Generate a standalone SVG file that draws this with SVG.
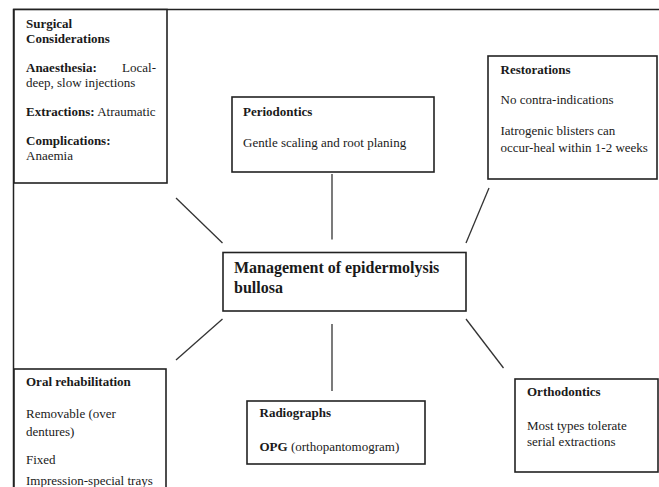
<svg xmlns="http://www.w3.org/2000/svg" width="659" height="487" viewBox="0 0 659 487">
<style>
.box{fill:#fff;stroke:#222;stroke-width:1.6}
.frame{fill:none;stroke:#222;stroke-width:1.5}
.con{stroke:#333;stroke-width:1.3;fill:none}
text{font-family:"Liberation Serif","Times New Roman",serif;font-size:13px;fill:#1a1a1a}
.b{font-weight:bold}
.title{font-size:16px;font-weight:bold}
</style>
<rect width="659" height="487" fill="#fff"/>
<g id="frame">
<path class="frame" d="M13.5,487 V9.5 H659"/>
</g>
<g id="connectors">
<line class="con" x1="176" y1="198" x2="222.5" y2="243"/>
<line class="con" x1="332" y1="174" x2="332" y2="239.5"/>
<line class="con" x1="489" y1="188" x2="466" y2="243"/>
<line class="con" x1="222.5" y1="319" x2="176" y2="360"/>
<line class="con" x1="332" y1="324" x2="332" y2="391"/>
<line class="con" x1="466" y1="319" x2="503.5" y2="368"/>
</g>
<g id="surgical">
<rect class="box" x="14" y="9.5" width="153" height="173.5"/>
<text x="26" y="28" class="b">Surgical</text>
<text x="26" y="43" class="b">Considerations</text>
<text x="26" y="72"><tspan class="b">Anaesthesia:</tspan></text>
<text x="156" y="72" text-anchor="end">Local-</text>
<text x="26" y="87">deep, slow injections</text>
<text x="26" y="116"><tspan class="b">Extractions:</tspan> Atraumatic</text>
<text x="26" y="145" class="b">Complications:</text>
<text x="26" y="160">Anaemia</text>
</g>
<g id="periodontics">
<rect class="box" x="232" y="97" width="202" height="75"/>
<text x="243" y="116" class="b">Periodontics</text>
<text x="243" y="147">Gentle scaling and root planing</text>
</g>
<g id="restorations">
<rect class="box" x="488" y="56" width="169" height="123"/>
<text x="500.5" y="74" class="b">Restorations</text>
<text x="500.5" y="104">No contra-indications</text>
<text x="500.5" y="135">Iatrogenic blisters can</text>
<text x="500.5" y="152">occur-heal within 1-2 weeks</text>
</g>
<g id="center">
<rect class="box" x="223" y="252.5" width="243" height="58.5"/>
<text x="234" y="273" class="title">Management of epidermolysis</text>
<text x="234" y="293" class="title">bullosa</text>
</g>
<g id="oral-rehabilitation">
<rect class="box" x="14" y="369" width="152" height="130"/>
<text x="26" y="386" class="b">Oral rehabilitation</text>
<text x="26" y="418">Removable (over</text>
<text x="26" y="436">dentures)</text>
<text x="26" y="464">Fixed</text>
<text x="26" y="485">Impression-special trays</text>
</g>
<g id="radiographs">
<rect class="box" x="247" y="401" width="178" height="63"/>
<text x="259.5" y="417" class="b">Radiographs</text>
<text x="259.5" y="451"><tspan class="b">OPG</tspan> (orthopantomogram)</text>
</g>
<g id="orthodontics">
<rect class="box" x="515" y="379" width="143" height="93"/>
<text x="527" y="396" class="b">Orthodontics</text>
<text x="527" y="430">Most types tolerate</text>
<text x="527" y="446">serial extractions</text>
</g>
</svg>
